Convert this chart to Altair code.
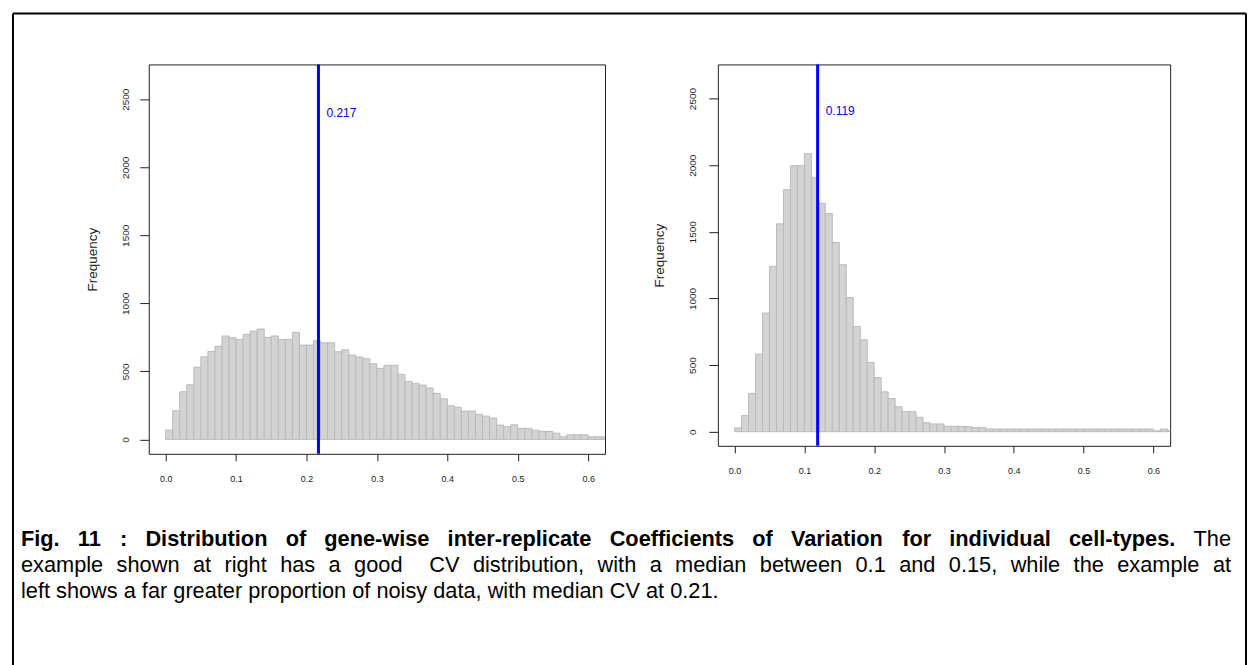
import altair as alt
import pandas as pd

# ---- data ----
bin_width = 0.01
left_counts = [68, 210, 350, 401, 531, 607, 647, 684, 760, 747,
               735, 772, 796, 811, 750, 760, 735, 735, 786, 693,
               693, 725, 710, 710, 644, 659, 620, 606, 593, 556,
               522, 545, 545, 478, 426, 412, 399, 377, 338, 299,
               247, 235, 208, 208, 184, 171, 157, 105, 93, 107,
               81, 81, 68, 59, 59, 46, 19, 34, 34, 34,
               19, 19, 19]
right_counts = [28, 122, 287, 581, 890, 1241, 1560, 1816, 1996, 1996,
                2085, 1906, 1714, 1637, 1420, 1253, 1007, 790, 690, 519,
                406, 299, 249, 187, 150, 150, 108, 67, 58, 58,
                40, 40, 40, 38, 30, 30, 20, 20, 20, 20,
                20, 20, 20, 20, 20, 20, 20, 20, 20, 20,
                20, 20, 20, 20, 20, 20, 20, 20, 20, 20,
                7, 20, 7]
left_median = 0.217
right_median = 0.119
x_ticks = [0.0, 0.1, 0.2, 0.3, 0.4, 0.5, 0.6]
y_ticks = [0, 500, 1000, 1500, 2000, 2500]
x_domain = [-0.024, 0.624]
y_domain = [-106, 2756]
y_title = "Frequency"

caption_bold = ("Fig. 11 : Distribution of gene-wise inter-replicate Coefficients "
                "of Variation for individual cell-types.")
caption_end = "The"
caption_line2 = ("example shown at right has a good  CV distribution, with a median "
                 "between 0.1 and 0.15, while the example at")
caption_line3 = "left shows a far greater proportion of noisy data, with median CV at 0.21."

FONT = "Liberation Sans"
CAP_SIZE = 21.8

# Arial / Liberation Sans advance widths (1/1000 em) used to justify caption lines
REG = {" ": 278, ",": 278, "-": 333, ".": 278, ":": 278, "C": 722, "V": 667,
       "T": 611, "F": 611, "D": 722,
       "a": 556, "b": 556, "c": 500, "d": 556, "e": 556, "f": 278, "g": 556,
       "h": 556, "i": 222, "j": 222, "k": 500, "l": 222, "m": 833, "n": 556,
       "o": 556, "p": 556, "q": 556, "r": 333, "s": 500, "t": 278, "u": 556,
       "v": 500, "w": 722, "x": 500, "y": 500, "z": 500}
BOLD = {" ": 278, ",": 278, "-": 333, ".": 278, ":": 333, "C": 722, "V": 667,
        "T": 611, "F": 611, "D": 722,
        "a": 556, "b": 611, "c": 556, "d": 611, "e": 556, "f": 333, "g": 611,
        "h": 611, "i": 278, "j": 278, "k": 556, "l": 278, "m": 889, "n": 611,
        "o": 611, "p": 611, "q": 611, "r": 389, "s": 556, "t": 333, "u": 611,
        "v": 556, "w": 778, "x": 556, "y": 556, "z": 500}


def text_width(s, bold, size):
    table = BOLD if bold else REG
    return sum(table.get(ch, 556) for ch in s) / 1000.0 * size


def justify(words, x0, x1, y, size):
    widths = [text_width(w, b, size) for w, b in words]
    gap = (x1 - x0 - sum(widths)) / (len(words) - 1)
    rows = []
    x = x0
    for (w, b), wd in zip(words, widths):
        if w:
            rows.append({"word": w, "bold": b, "px": x, "py": y})
        x += wd + gap
    return rows


CAP_X0, CAP_X1 = -128, 1084
line1_words = [(w, True) for w in caption_bold.split(" ")] + [(caption_end, False)]
line2_words = [(w, False) for w in caption_line2.split(" ")]
cap_rows = justify(line1_words, CAP_X0, CAP_X1, 475, CAP_SIZE) + \
    justify(line2_words, CAP_X0, CAP_X1, 501, CAP_SIZE)
cap_df = pd.DataFrame(cap_rows)


def panel(counts, median, width, height, label_pad, title_x, title_y, text_y):
    starts = [round(i * bin_width, 4) for i in range(len(counts))]
    df = pd.DataFrame({"start": starts,
                       "end": [s + bin_width for s in starts],
                       "count": counts,
                       "zero": [0] * len(counts)})
    xs = alt.Scale(domain=x_domain, nice=False, zero=False)
    ys = alt.Scale(domain=y_domain, nice=False, zero=False)
    bars = alt.Chart(df).mark_bar(
        fill="#D3D3D3", stroke="#BABABA", strokeWidth=1, clip=True
    ).encode(
        x=alt.X("start:Q", scale=xs, axis=alt.Axis(
            values=x_ticks, format=".1f", title=None, domain=False, grid=False,
            tickSize=7, labelPadding=18, labelBaseline="middle",
            labelFlush=False, labelOverlap=False)),
        x2="end:Q",
        y=alt.Y("count:Q", scale=ys, axis=alt.Axis(
            values=y_ticks, format="d", title=y_title, domain=False, grid=False,
            tickSize=9, labelAngle=270, labelAlign="center",
            labelBaseline="middle", labelPadding=label_pad, labelFontSize=10,
            labelOverlap=False, labelFlush=False,
            titleX=title_x, titleY=title_y, titleAngle=270,
            titleAlign="center", titleBaseline="middle")),
        y2="zero:Q",
    )
    mdf = pd.DataFrame({"m": [median], "label": [f"{median:.3f}"]})
    rule = alt.Chart(mdf).mark_rule(color="#0000FF", strokeWidth=3).encode(
        x=alt.X("m:Q", scale=xs))
    txt = alt.Chart(mdf).mark_text(
        align="left", baseline="middle", dx=8, color="#0000FF",
        fontSize=12, font=FONT
    ).encode(x=alt.X("m:Q", scale=xs), y=alt.value(text_y), text="label:N")
    return bars, rule, txt, width, height


lb, lr, lt, lw, lh = panel(left_counts, left_median, 457, 390, 14, -56, 195, 49)
rb, rr, rt, rw, rh = panel(right_counts, right_median, 453, 382, 16, -58, 191, 47)

one = pd.DataFrame({"k": [0]})
cap_bold = alt.Chart(cap_df).transform_filter("datum.bold").mark_text(
    align="left", baseline="middle", fontSize=CAP_SIZE, fontWeight="bold",
    font=FONT, color="#000000"
).encode(x=alt.X("px:Q", scale=None), y=alt.Y("py:Q", scale=None), text="word:N")
cap_reg = alt.Chart(cap_df).transform_filter("!datum.bold").mark_text(
    align="left", baseline="middle", fontSize=CAP_SIZE, font=FONT, color="#000000"
).encode(x=alt.X("px:Q", scale=None), y=alt.Y("py:Q", scale=None), text="word:N")
cap3 = alt.Chart(one).mark_text(
    align="left", baseline="middle", fontSize=CAP_SIZE, font=FONT, color="#000000"
).encode(x=alt.value(CAP_X0), y=alt.value(527), text=alt.value(caption_line3))

border_top = alt.Chart(one).mark_rule(color="#000000", strokeWidth=2).encode(
    x=alt.value(-136), x2=alt.value(1099), y=alt.value(-51))
border_left = alt.Chart(one).mark_rule(color="#000000", strokeWidth=2).encode(
    x=alt.value(-136), y=alt.value(-51), y2=alt.value(610))
border_right = alt.Chart(one).mark_rule(color="#000000", strokeWidth=2).encode(
    x=alt.value(1099), y=alt.value(-51), y2=alt.value(610))

left = alt.layer(lb, lr, lt, cap_bold, cap_reg, cap3,
                 border_top, border_left, border_right).properties(width=lw, height=lh)
right = alt.layer(rb, rr, rt).properties(width=rw, height=rh)

chart = alt.hconcat(left, right, spacing=113, bounds="flush").resolve_scale(
    x="independent", y="independent"
).properties(
    padding={"left": 11, "top": 11, "right": 1, "bottom": 0},
    background="#FFFFFF",
).configure_view(
    stroke="#222222", strokeWidth=1
).configure_axis(
    labelFont=FONT, labelFontSize=9, labelColor="#222222",
    titleFont=FONT, titleFontSize=13.5, titleFontWeight="normal", titleColor="#222222",
    tickColor="#222222", tickWidth=1,
)

chart.save("out.html", embed_options={"renderer": "svg", "actions": False})
